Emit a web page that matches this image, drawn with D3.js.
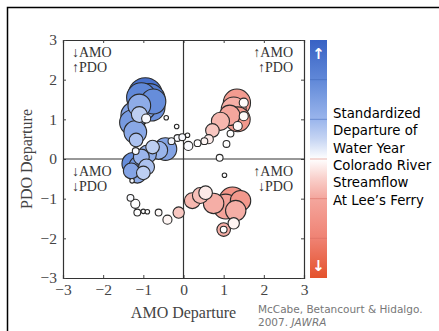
<!DOCTYPE html>
<html>
<head>
<meta charset="utf-8">
<script src="https://cdn.jsdelivr.net/npm/d3@7"></script>
<style>
  html, body { margin: 0; padding: 0; background: #fff; }
  svg { display: block; }
</style>
</head>
<body>
<svg id="chart"></svg>
<script>
// one entry per water year: AMO departure, PDO departure, streamflow departure, bubble size
const amo = [-0.95, -0.85, -1.05, -0.8, -1.0, -1.22, -1.28, -1.2, -1.18, -0.93, -1.1, -1.19, -0.43, -0.17,
  -0.45, -0.62, -0.77, -0.9, -1.05, -1.25, -1.08, -0.92, -1.15, -1.3, -1.0,
  -1.28, -1.32, -1.2, -1.15, -1.0, -0.9, -0.62, -0.4, -0.12,
  0.22, 0.42, 0.55, 0.75, 1.05, 1.22, 1.42, 1.3, 1.0, 1.0, 1.25, 1.02, 0.9,
  1.33, 1.25, 1.35, 1.15, 1.5, 1.5, 1.35, 1.17, 0.92, 0.72, 0.63, 1.07,
  -0.15, -0.03, 0.12, 0.35, 0.52, 0.1, -0.3, -0.75, -1.1];
const pdo = [1.62, 1.5, 1.55, 1.3, 1.3, 1.1, 0.92, 0.68, 0.48, 1.02, 1.12, 0.2, 1.04, 0.82,
  0.25, 0.22, 0.3, 0.12, 0.05, -0.12, -0.2, -0.2, -0.38, -0.3, -0.35,
  -0.55, -0.98, -1.13, -1.35, -1.32, -1.33, -1.35, -1.53, -1.35,
  -1.05, -0.92, -0.85, -1.12, -1.2, -1.05, -1.05, -1.3, -1.78, -1.78, -1.62, -0.41, 0.03,
  1.42, 1.25, 1.0, 1.1, 1.42, 1.08, 0.83, 0.64, 0.95, 0.72, 0.5, 0.38,
  0.53, 0.55, 0.33, 0.4, 0.45, 0.6, 0.45, 1.45, 1.35];
const flow = [2.6, 2.3, 2.0, 1.8, 1.5, 1.4, 1.6, 1.3, 0.8, 0.05, 0.6, 0.05, 0, 0,
  1.4, 1.0, 0.6, 1.2, 1.0, 1.9, 1.7, 0.8, 1.2, 1.4, 0.6,
  0.1, 0.05, 0, 0, 0, 0, -0.05, -0.1, -0.6,
  -0.8, -0.7, -0.2, -0.9, -1.1, -1.5, -1.4, -0.9, -0.9, 0, -0.1, 0, 0,
  -1.3, -0.9, -1.4, -1.0, -0.05, -0.05, -0.05, 0, -0.8, -0.6, -0.2, 0,
  0.05, 0.05, 0.05, 0, -0.1, 0, 0.1, 1.9, 1.2];
const size = [15, 14, 13, 12, 11, 12, 11, 10, 6, 4, 7, 3, 2, 2,
  10, 8, 6, 8, 7, 10, 10, 7, 8, 7, 6,
  2, 3, 4, 3, 2, 2, 3, 4, 5,
  7, 7, 6, 9, 11, 12, 9, 9, 6, 3, 5, 2, 3,
  12, 11, 11, 9, 4, 4, 4, 3, 8, 6, 4, 3,
  3, 3, 4, 3, 3, 2, 3, 11, 10];

const ticks = [-3, -2, -1, 0, 1, 2, 3];
const quadrantLabels = [
  { lines: ['\u2193AMO', '\u2191PDO'], x: -3, y: 3, anchor: 'start' },
  { lines: ['\u2191AMO', '\u2191PDO'], x: 3, y: 3, anchor: 'end' },
  { lines: ['\u2193AMO', '\u2193PDO'], x: -3, y: 0, anchor: 'start' },
  { lines: ['\u2191AMO', '\u2193PDO'], x: 3, y: 0, anchor: 'end' }
];
const legendLines = ['Standardized', 'Departure of', 'Water Year', 'Colorado River', 'Streamflow', 'At Lee\u2019s Ferry'];

const W = 439, H = 331;
const plot = { left: 63, right: 304, top: 40, bottom: 278 };

const svg = d3.select('#chart').attr('width', W).attr('height', H);

// frame of the slide
svg.append('path')
  .attr('d', `M7.5,${H} L7.5,7.5 L${W},7.5`)
  .attr('fill', 'none').attr('stroke', '#000').attr('stroke-width', 1.5);

const x = d3.scaleLinear().domain([-3, 3]).range([plot.left, plot.right]);
const y = d3.scaleLinear().domain([-3, 3]).range([plot.bottom, plot.top]);
const r = d3.scaleLinear().domain([0, 15]).range([0, 17]);
const color = d3.scaleLinear()
  .domain([-3, -2, -1, -0.3, 0, 0.3, 1, 2, 3])
  .range(['#e4522c', '#ef8273', '#f4a69d', '#fbe0dc', '#ffffff', '#d8e2f6', '#9ab5ec', '#6088d8', '#3862c4'])
  .clamp(true);

const serif = '"Liberation Serif", "Times New Roman", serif';
const g = svg.append('g');

// axes, ticks pointing inward on all four sides
g.append('g').attr('transform', `translate(0,${plot.bottom})`)
  .call(d3.axisBottom(x).tickValues(ticks).tickSize(-3).tickPadding(6).tickFormat(d3.format('d')));
g.append('g').attr('transform', `translate(0,${plot.top})`)
  .call(d3.axisTop(x).tickValues(ticks).tickSize(-3).tickFormat(''));
g.append('g').attr('transform', `translate(${plot.left},0)`)
  .call(d3.axisLeft(y).tickValues(ticks).tickSize(-3).tickPadding(6).tickFormat(d3.format('d')));
g.append('g').attr('transform', `translate(${plot.right},0)`)
  .call(d3.axisRight(y).tickValues(ticks).tickSize(-3).tickFormat(''));

g.selectAll('.domain').attr('stroke', '#333').attr('stroke-width', 1.2);
g.selectAll('.tick line').attr('stroke', '#444');
g.selectAll('.tick text').attr('font-family', serif).attr('font-size', 15.5).attr('fill', '#444');

// zero lines
g.append('line').attr('x1', x(0)).attr('x2', x(0)).attr('y1', plot.top).attr('y2', plot.bottom)
  .attr('stroke', '#333').attr('stroke-width', 1.2);
g.append('line').attr('x1', plot.left).attr('x2', plot.right).attr('y1', y(0)).attr('y2', y(0))
  .attr('stroke', '#333').attr('stroke-width', 1.2);

// bubbles, small ones on top
const points = amo.map((a, i) => ({ a, p: pdo[i], f: flow[i], s: size[i] }))
  .sort((m, n) => n.s - m.s);

g.append('g').selectAll('circle')
  .data(points)
  .join('circle')
  .attr('cx', d => x(d.a))
  .attr('cy', d => y(d.p))
  .attr('r', d => r(d.s))
  .attr('fill', d => color(d.f))
  .attr('stroke', '#2a2a2a')
  .attr('stroke-width', 1.1);

// quadrant labels
quadrantLabels.forEach(q => {
  const tx = q.anchor === 'start' ? x(q.x) + 9 : x(q.x) - 11;
  const t = g.append('text')
    .attr('y', y(q.y) + 17)
    .attr('text-anchor', q.anchor)
    .attr('font-family', serif).attr('font-size', 14).attr('fill', '#333');
  q.lines.forEach((l, i) => t.append('tspan')
    .attr('x', tx).attr('dy', i ? 15 : 0).text(l));
});

// axis titles
svg.append('text')
  .attr('x', x(0)).attr('y', 318)
  .attr('text-anchor', 'middle')
  .attr('font-family', serif).attr('font-size', 16).attr('fill', '#444')
  .text('AMO Departure');
svg.append('text')
  .attr('transform', `translate(32,${y(0)}) rotate(-90)`)
  .attr('text-anchor', 'middle')
  .attr('font-family', serif).attr('font-size', 16).attr('fill', '#444')
  .text('PDO Departure');

// colour bar
const bar = { x: 310, w: 17 };
const grad = svg.append('defs').append('linearGradient')
  .attr('id', 'flowGrad').attr('x1', 0).attr('x2', 0).attr('y1', 0).attr('y2', 1);
d3.range(3, -3.01, -0.5).forEach(v => {
  grad.append('stop').attr('offset', (3 - v) / 6).attr('stop-color', color(v));
});
svg.append('rect')
  .attr('x', bar.x).attr('y', plot.top).attr('width', bar.w).attr('height', plot.bottom - plot.top)
  .attr('fill', 'url(#flowGrad)');
svg.append('g').selectAll('line')
  .data(ticks.slice(1, -1))
  .join('line')
  .attr('x1', bar.x).attr('x2', bar.x + bar.w)
  .attr('y1', d => y(d)).attr('y2', d => y(d))
  .attr('stroke', d => d > 0 ? '#3c63b8' : '#d56a5d').attr('stroke-opacity', 0.5);
svg.append('text').attr('x', bar.x + bar.w / 2).attr('y', plot.top + 19)
  .attr('text-anchor', 'middle').attr('font-family', 'DejaVu Sans').attr('font-weight', 'bold')
  .attr('font-size', 15).attr('fill', '#fff').text('\u2191');
svg.append('text').attr('x', bar.x + bar.w / 2).attr('y', plot.bottom - 7)
  .attr('text-anchor', 'middle').attr('font-family', 'DejaVu Sans').attr('font-weight', 'bold')
  .attr('font-size', 15).attr('fill', '#fff').text('\u2193');

svg.append('g').selectAll('text')
  .data(legendLines)
  .join('text')
  .attr('x', 333)
  .attr('y', (d, i) => 118 + i * 17.3)
  .attr('font-family', '"Comic Sans MS", "DejaVu Sans", sans-serif')
  .attr('font-size', 13.3)
  .attr('fill', '#000')
  .text(d => d);

// citation
const cite = svg.append('text')
  .attr('font-family', '"Comic Sans MS", "DejaVu Sans", sans-serif')
  .attr('font-size', 10.5).attr('fill', '#777');
cite.append('tspan').attr('x', 258).attr('y', 313).text('McCabe, Betancourt & Hidalgo.');
cite.append('tspan').attr('x', 258).attr('y', 326).text('2007. ');
cite.append('tspan').attr('font-style', 'italic').text('JAWRA');
</script>
</body>
</html>
